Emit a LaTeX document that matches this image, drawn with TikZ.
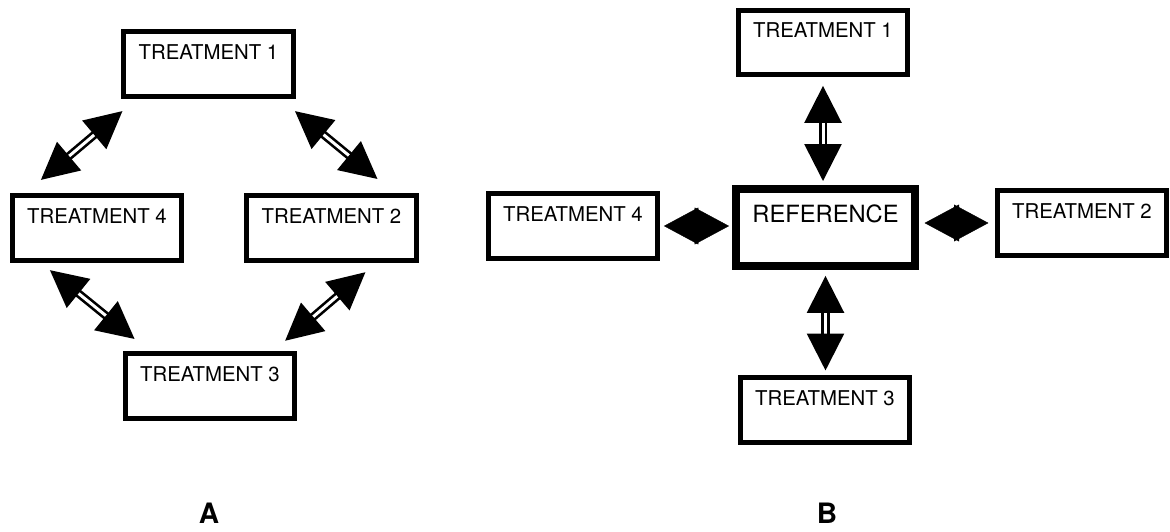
\documentclass[tikz,border=0pt]{standalone}
\usepackage{fontspec}
\setmainfont{TeX Gyre Heros}
\usetikzlibrary{arrows.meta}

\begin{document}
\begin{tikzpicture}[
  x=0.02cm, y=-0.02cm,
  tbox/.style={draw, line width=3pt, minimum width=96.5pt,
               inner xsep=0pt, inner ysep=7.3pt,
               text height=8.4pt, text depth=13.8pt,
               font=\fontsize{11.6}{13}\selectfont},
  refbox/.style={draw, line width=4.5pt, minimum width=101.9pt,
                 inner xsep=0pt, inner ysep=9.1pt,
                 text height=9.7pt, text depth=15.9pt,
                 font=\fontsize{13.5}{16}\selectfont},
  link/.style={double, line width=1.5pt, double distance=1.7pt,
               {Triangle[length=21pt,width=21pt]}-{Triangle[length=21pt,width=21pt]}},
  rhomb/.style={line width=0.2pt,
                {Triangle[length=19.6pt,width=21pt]}-{Triangle[length=19.6pt,width=21pt]}},
  panel/.style={font=\fontsize{16}{19}\selectfont\bfseries}
]
  \useasboundingbox (0,0) rectangle (1170,531);

  % A: treatments compared in a ring
  \node[tbox] (t1a) at (208.5,64) {TREATMENT 1};
  \node[tbox] (t4a) at (97,228)   {TREATMENT 4};
  \node[tbox] (t2a) at (331.5,228) {TREATMENT 2};
  \node[tbox] (t3a) at (210,386)  {TREATMENT 3};

  \draw[link, shorten <=10.7pt, shorten >=11.6pt] (t1a.-154.3) -- (t4a.154.5);
  \draw[link, shorten <=10.9pt, shorten >=12.6pt] (t1a.-26.5) -- (t2a.29.6);
  \draw[link, shorten <=6.5pt, shorten >=10.9pt] (t4a.-148.3) -- (t3a.150.2);
  \draw[link, shorten <=8.1pt, shorten >=9pt] (t2a.-38.3) -- (t3a.29.5);

  \node[panel] (lba) at (209,513) {A};

  % B: treatments compared with a reference
  \node[refbox] (ref) at (825.5,227.5) {REFERENCE};
  \node[tbox] (t1b) at (823,42.5) {TREATMENT 1};
  \node[tbox] (t4b) at (573,226)  {TREATMENT 4};
  \node[tbox] (t2b) at (1082,223) {TREATMENT 2};
  \node[tbox] (t3b) at (825,410)  {TREATMENT 3};

  \draw[link, shorten <=4.8pt, shorten >=2.3pt] (t1b.south) -- (t1b.south |- ref.north);
  \draw[link, shorten <=3.4pt, shorten >=2.6pt] (ref.south) -- (ref.south |- t3b.north);
  \draw[rhomb, shorten <=1.7pt, shorten >=2pt] (ref.west |- t4b.east) -- (t4b.east);
  \draw[rhomb, shorten <=3.2pt, shorten >=3.5pt] (ref.east |- t2b.west) -- (t2b.west);

  \node[panel] (lbb) at (827,513) {B};
\end{tikzpicture}
\end{document}
